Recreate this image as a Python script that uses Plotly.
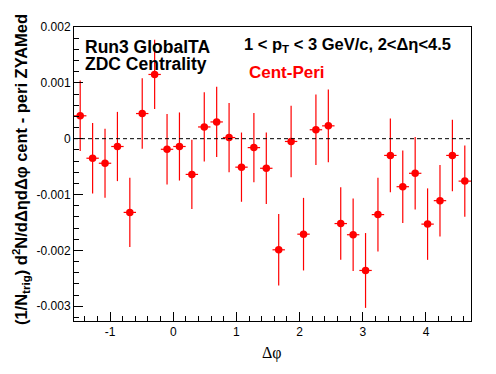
import math
import plotly.graph_objects as go

# Data: 32 bins in delta-phi from -pi/2 to 3pi/2
n_bins = 32
bin_width = 2 * math.pi / n_bins
dphi = [-math.pi / 2 + (i + 0.5) * bin_width for i in range(n_bins)]

values = [0.00041, -0.00035, -0.00044, -0.00014, -0.00132, 0.00045, 0.00115, -0.00019,
          -0.00014, -0.00064, 0.00021, 0.00030, 0.00002, -0.00051, -0.00016, -0.00053,
          -0.00199, -0.00005, -0.00171, 0.00016, 0.00023, -0.00152, -0.00172, -0.00236,
          -0.00136, -0.00030, -0.00086, -0.00062, -0.00153, -0.00111, -0.00030, -0.00076]

errors = [0.00063, 0.00063, 0.00062, 0.00062, 0.00062, 0.00063, 0.00062, 0.00063,
          0.00061, 0.00062, 0.00062, 0.00063, 0.00062, 0.00062, 0.00062, 0.00064,
          0.00064, 0.00064, 0.00065, 0.00063, 0.00065, 0.00065, 0.00065, 0.00067,
          0.00066, 0.00066, 0.00065, 0.00065, 0.00064, 0.00064, 0.00064, 0.00064]

x_half = [bin_width / 2] * n_bins

y_tickvals = [0.002, 0.001, 0, -0.001, -0.002, -0.003]
y_ticktext = ["0.002", "0.001", "0", "-0.001", "-0.002", "-0.003"]
x_tickvals = [-1, 0, 1, 2, 3, 4]
x_ticktext = ["-1", "0", "1", "2", "3", "4"]

x_range = [-math.pi / 2, 3 * math.pi / 2]
y_range = [-0.003265, 0.002]

OFF = 8  # page body margin
W, H = 488, 366
L, R, T, B = 66, 25, 15, 53
PW, PH = W - L - R, H - T - B


def px(xpix):
    return (xpix - OFF - L) / PW


def py(ypix):
    return (OFF + H - B - ypix) / PH


fig = go.Figure()
fig.add_trace(go.Scatter(
    x=dphi, y=values, mode="markers",
    marker=dict(color="#ff0000", size=7.5, symbol="circle"),
    error_y=dict(type="data", array=errors, color="#ff0000", thickness=1.2, width=0),
    error_x=dict(type="data", array=x_half, color="#ff0000", thickness=1.2, width=0),
    showlegend=False,
))

fig.add_shape(type="line", xref="x", yref="y", x0=x_range[0], x1=x_range[1], y0=0, y1=0,
              line=dict(color="black", width=1, dash="4px,3px"))

font_b = "Liberation Sans, Arial, sans-serif"

fig.update_layout(
    width=W, height=H,
    margin=dict(l=L, r=R, t=T, b=B),
    paper_bgcolor="white", plot_bgcolor="white",
    font=dict(family=font_b, color="black", size=12),
    xaxis=dict(range=x_range, tickvals=x_tickvals, ticktext=x_ticktext,
               ticks="inside", ticklen=9, tickwidth=1, tickcolor="black",
               showline=True, linecolor="black", linewidth=1, mirror=True,
               showgrid=False, zeroline=False,
               minor=dict(ticks="inside", ticklen=5, dtick=0.2, tick0=0, tickcolor="black", showgrid=False),
               tickfont=dict(size=12, family=font_b)),
    yaxis=dict(range=y_range, tickvals=y_tickvals, ticktext=y_ticktext,
               ticks="inside", ticklen=9, tickwidth=1, tickcolor="black",
               showline=True, linecolor="black", linewidth=1, mirror=True,
               showgrid=False, zeroline=False,
               minor=dict(ticks="inside", ticklen=5, dtick=0.0002, tick0=0, tickcolor="black", showgrid=False),
               tickfont=dict(size=12, family=font_b)),
)

ann = [
    dict(text="<b>Run3 GlobalTA</b>", x=px(83), y=py(43), size=17.5, color="black"),
    dict(text="<b>ZDC Centrality</b>", x=px(83), y=py(61), size=17.5, color="black"),
    dict(text="<b>1 < p<sub>T</sub> < 3 GeV/c, 2<Δη<4.5</b>", x=px(242), y=py(41), size=16.5, color="black"),
    dict(text="<b>Cent-Peri</b>", x=px(247), y=py(69), size=17, color="#ff0000"),
]
for a in ann:
    fig.add_annotation(text=a["text"], xref="paper", yref="paper", x=a["x"], y=a["y"],
                       xanchor="left", yanchor="middle", showarrow=False,
                       font=dict(size=a["size"], color=a["color"], family=font_b))

fig.add_annotation(text="Δφ", xref="paper", yref="paper", x=px(272), y=py(353),
                   xanchor="center", yanchor="middle", showarrow=False,
                   font=dict(size=16, family="Liberation Serif, Times New Roman, serif", color="black"))

fig.add_annotation(text="<b>(1/N<sub>trig</sub>) d<sup>2</sup>N/dΔηdΔφ cent - peri ZYAMed</b>",
                   xref="paper", yref="paper", x=px(21), y=py(168), textangle=-90,
                   xanchor="center", yanchor="middle", showarrow=False,
                   font=dict(size=16.5, family=font_b, color="black"))

fig.write_html("out.html")
